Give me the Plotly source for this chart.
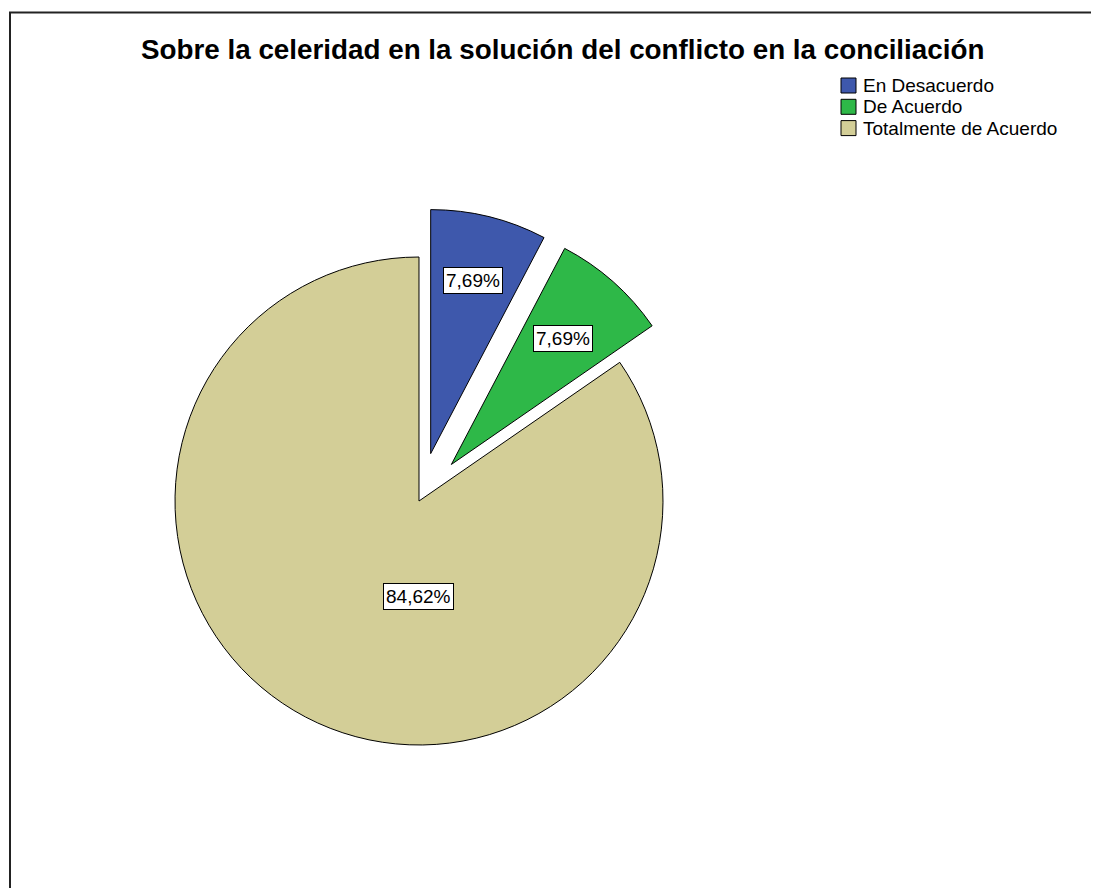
import math
import plotly.graph_objects as go

# ---------------- data ----------------
title_text = "Sobre la celeridad en la solución del conflicto en la conciliación"
categories = ["En Desacuerdo", "De Acuerdo", "Totalmente de Acuerdo"]
percentages = [7.69, 7.69, 84.62]
colors = ["#3E58AC", "#2EB848", "#D3CE97"]
pulls = [0.2, 0.2, 0.0]

# ---------------- layout constants ----------------
W, H = 1099, 888
OFF = 8  # page body margin offset
FONT = "Liberation Sans, Arial, sans-serif"

# desired pie centre / radius on the page
PIE_CX, PIE_CY, PIE_R = 419, 501, 244
half = PIE_R * (1 + max(pulls))
dom_x = [(PIE_CX - OFF - half) / W, (PIE_CX - OFF + half) / W]
dom_y = [1 - (PIE_CY - OFF + half) / H, 1 - (PIE_CY - OFF - half) / H]

label_r_frac = [0.73, 0.69, 0.39]
label_angle_override = [None, None, 180.0]


def px_x(x):
    return (x - OFF) / W


def px_y(y):
    return 1 - (y - OFF) / H


def fmt(v):
    return f"{v:.2f}".replace(".", ",") + "%"


fig = go.Figure()
fig.add_trace(go.Pie(
    labels=categories,
    values=percentages,
    sort=False,
    direction="clockwise",
    rotation=0,
    pull=pulls,
    marker=dict(colors=colors, line=dict(color="#000000", width=1)),
    textinfo="none",
    hovertemplate="%{label}: %{value}%<extra></extra>",
    domain=dict(x=dom_x, y=dom_y),
    showlegend=False,
))

# pie geometry (same as plotly's own pie scaling), in page pixels
boxW = W * (dom_x[1] - dom_x[0])
boxH = H * (dom_y[1] - dom_y[0])
r = min(boxW, boxH) / 2 / (1 + max(pulls))
cx = W * (dom_x[0] + dom_x[1]) / 2 + OFF
cy = H * (1 - (dom_y[0] + dom_y[1]) / 2) + OFF

annotations = []
shapes = []
total = sum(percentages)
start = 0.0
for i, v in enumerate(percentages):
    span = v / total * 360.0
    mid = math.radians(start + span / 2)
    start += span
    ax = cx + pulls[i] * r * math.sin(mid)
    ay = cy - pulls[i] * r * math.cos(mid)
    la = mid if label_angle_override[i] is None else math.radians(label_angle_override[i])
    lx = ax + label_r_frac[i] * r * math.sin(la)
    ly = ay - label_r_frac[i] * r * math.cos(la)
    annotations.append(dict(
        x=px_x(lx), y=px_y(ly), xref="paper", yref="paper",
        text=fmt(v), showarrow=False, xanchor="center", yanchor="middle",
        font=dict(family=FONT, size=19, color="#000000"),
        bgcolor="#FFFFFF", bordercolor="#000000", borderwidth=1, borderpad=2,
    ))

# title
annotations.append(dict(
    x=px_x(562), y=px_y(50), xref="paper", yref="paper",
    text="<b>" + title_text + "</b>", showarrow=False,
    xanchor="center", yanchor="middle",
    font=dict(family=FONT, size=27.8, color="#000000"),
))

# legend (drawn manually to match compact spacing)
leg_x0, leg_y0, leg_step, sq = 841, 85.5, 21.3, 15
for i, name in enumerate(categories):
    yc = leg_y0 + i * leg_step
    shapes.append(dict(
        type="rect", xref="paper", yref="paper",
        x0=px_x(leg_x0), x1=px_x(leg_x0 + sq),
        y0=px_y(yc + sq / 2), y1=px_y(yc - sq / 2),
        fillcolor=colors[i], line=dict(color="#000000", width=1),
    ))
    annotations.append(dict(
        x=px_x(leg_x0 + sq + 5), y=px_y(yc), xref="paper", yref="paper",
        text=name, showarrow=False, xanchor="left", yanchor="middle",
        font=dict(family=FONT, size=19, color="#000000"),
    ))

# outer frame: only the left and top edges are visible in the crop
shapes.append(dict(
    type="line", xref="paper", yref="paper",
    x0=px_x(10), x1=px_x(10), y0=0, y1=px_y(12),
    line=dict(color="#222222", width=2),
))
shapes.append(dict(
    type="line", xref="paper", yref="paper",
    x0=px_x(9), x1=1, y0=px_y(12.5), y1=px_y(12.5),
    line=dict(color="#222222", width=2),
))

fig.update_layout(
    width=W, height=H,
    margin=dict(l=0, r=0, t=0, b=0),
    paper_bgcolor="#FFFFFF",
    plot_bgcolor="#FFFFFF",
    annotations=annotations,
    shapes=shapes,
    showlegend=False,
)

fig.write_html("out.html")
